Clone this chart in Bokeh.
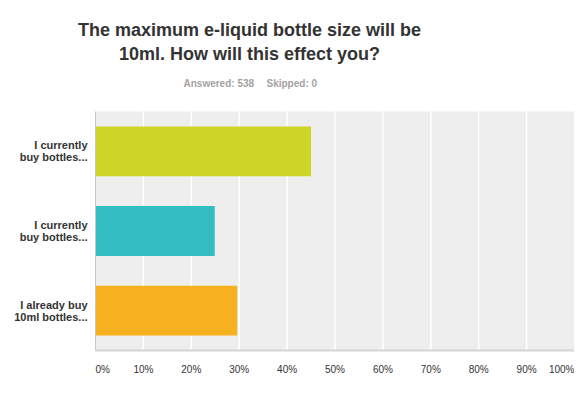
from bokeh.plotting import figure
from bokeh.models import Label, Range1d
from bokeh.embed import file_html
from bokeh.resources import INLINE

cat_line1 = ["I currently", "I currently", "I already buy"]
cat_line2 = ["buy bottles...", "buy bottles...", "10ml bottles..."]
values = [45.0, 24.9, 29.6]
colors = ["#CDD527", "#33BDC0", "#F7B01F"]
tick_values = [0, 10, 20, 30, 40, 50, 60, 70, 80, 90, 100]
tick_labels = [f"{t}%" for t in tick_values]
title_lines = ["The maximum e-liquid bottle size will be", "10ml. How will this effect you?"]
answered = "Answered: 538"
skipped = "Skipped: 0"

n = len(values)
ypos = [n - 1 - i for i in range(n)]

# layout (pixels): canvas and plot area inside it
W, H = 574, 393
PL, PR, PT, PB = 95, 574, 111, 350
xmin, xmax = tick_values[0], tick_values[-1]
ymin, ymax = -0.5, n - 0.5
sx = (xmax - xmin) / (PR - PL)
sy = (ymax - ymin) / (PB - PT)

p = figure(width=W, height=H, output_backend="svg", toolbar_location=None,
           x_axis_type=None, y_axis_type=None,
           x_range=Range1d(xmin - PL * sx, xmax + (W - PR) * sx),
           y_range=Range1d(ymin - (H - PB) * sy, ymax + PT * sy),
           min_border=0)
p.outline_line_color = None
p.background_fill_color = "white"
p.border_fill_color = "white"

FONT = "Liberation Sans"

# plot area background
p.quad(left=[xmin], right=[xmax], bottom=[ymin], top=[ymax], color="#EEEEEE", line_color=None)
# vertical grid lines
inner = tick_values[1:-1]
p.segment(x0=inner, y0=[ymin] * len(inner), x1=inner, y1=[ymax] * len(inner),
          line_color="white", line_width=1.5)
# bars
p.hbar(y=ypos, right=values, left=0, height=0.625, color=colors, line_color=None)
# axis lines
p.segment(x0=[xmin], y0=[ymin], x1=[xmin], y1=[ymax], line_color="#C8C8C8", line_width=1)
p.segment(x0=[xmin], y0=[ymin], x1=[xmax], y1=[ymin], line_color="#D4D4D4", line_width=2)

# category labels
for y, l1, l2 in zip(ypos, cat_line1, cat_line2):
    for txt, base in ((l1, "bottom"), (l2, "top")):
        p.add_layout(Label(x=PL - 8, x_units="screen", y=y, y_units="data", text=txt,
                           text_align="right", text_baseline=base,
                           text_font=FONT, text_font_style="bold",
                           text_font_size="11px", text_color="#333333"))

# x tick labels
for i, (t, lab) in enumerate(zip(tick_values, tick_labels)):
    align = "left" if i == 0 else ("right" if i == len(tick_values) - 1 else "center")
    p.add_layout(Label(x=t, x_units="data", y=H - 369, y_units="screen", text=lab,
                       text_align=align, text_baseline="middle",
                       text_font=FONT, text_font_size="10px",
                       text_color="#333333"))

# title and subtitle
for j, line in enumerate(title_lines):
    p.add_layout(Label(x=249, x_units="screen", y=H - 29 - 24 * j, y_units="screen",
                       text=line, text_align="center", text_baseline="middle",
                       text_font=FONT, text_font_style="bold",
                       text_font_size="18px", text_color="#333333"))
for x0, txt in ((183, answered), (266, skipped)):
    p.add_layout(Label(x=x0, x_units="screen", y=H - 83, y_units="screen",
                       text=txt, text_align="left", text_baseline="middle",
                       text_font=FONT, text_font_style="bold",
                       text_font_size="10px", text_color="#A3A3A3"))

open("out.html", "w").write(file_html(p, INLINE))
